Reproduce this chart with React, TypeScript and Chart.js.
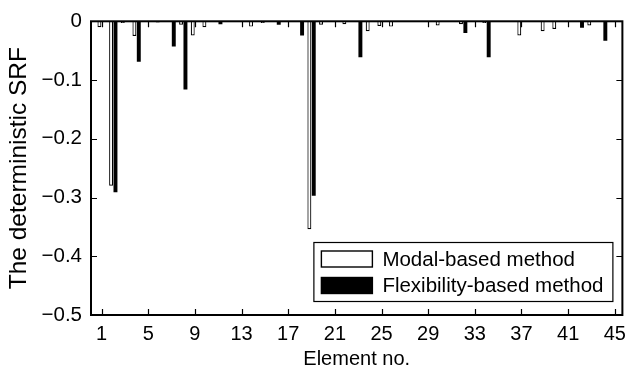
import React, { useEffect, useRef } from "react";
import { Chart, registerables } from "chart.js";

Chart.register(...registerables);

const elementNos = [
  1, 2, 3, 4, 5, 6, 7, 8, 9, 10, 11, 12, 13, 14, 15, 16, 17, 18, 19, 20, 21, 22, 23,
  24, 25, 26, 27, 28, 29, 30, 31, 32, 33, 34, 35, 36, 37, 38, 39, 40, 41, 42, 43, 44, 45,
];

const modalBased = [
  -0.01, -0.28, -0.003, -0.025, 0, -0.002, 0, -0.006, -0.024, -0.01,
  0, 0, 0, -0.009, -0.003, 0, 0, 0, -0.354, -0.006,
  0, -0.005, 0, -0.017, -0.008, -0.009, 0, 0, 0, -0.007,
  0, -0.005, 0, -0.003, 0, 0, -0.024, 0, -0.017, -0.013,
  0, 0, -0.007, 0, 0,
];

const flexibilityBased = [
  0, -0.291, 0, -0.069, 0, 0, -0.043, -0.116, 0, 0,
  -0.005, 0, 0, 0, 0, -0.006, 0, -0.024, -0.297, 0,
  0, 0, -0.061, 0, 0, 0, 0, 0, 0, 0,
  0, -0.02, 0, -0.061, 0, 0, 0, 0, 0, 0,
  0, -0.011, 0, -0.033, 0,
];

const xTickValues = [1, 5, 9, 13, 17, 21, 25, 29, 33, 37, 41, 45];
const yTickValues = [0, -0.1, -0.2, -0.3, -0.4, -0.5];

const seriesNames = ["Modal-based method", "Flexibility-based method"];

const FONT = '"Liberation Sans", Arial, Helvetica, sans-serif';

const framePlugin = {
  id: "matlabFrame",
  afterDatasetsDraw(chart: any) {
    const { ctx, chartArea: a, scales } = chart;
    ctx.save();
    const L = 6;
    ctx.strokeStyle = "#000";
    ctx.lineWidth = 1.2;
    ctx.beginPath();
    xTickValues.forEach((v) => {
      const px = Math.round(scales.x.getPixelForValue(v)) + 0.5;
      ctx.moveTo(px, a.bottom);
      ctx.lineTo(px, a.bottom - L);
      ctx.moveTo(px, a.top);
      ctx.lineTo(px, a.top + L);
    });
    yTickValues.forEach((v) => {
      const py = Math.round(scales.y.getPixelForValue(v)) + 0.5;
      ctx.moveTo(a.left, py);
      ctx.lineTo(a.left + L, py);
      ctx.moveTo(a.right, py);
      ctx.lineTo(a.right - L, py);
    });
    ctx.stroke();
    ctx.lineWidth = 2;
    ctx.strokeRect(a.left, a.top, a.right - a.left, a.bottom - a.top);

    // legend
    const bw = 299;
    const bh = 59;
    const bx = a.right - 10 - bw;
    const by = a.bottom - 14 - bh;
    ctx.fillStyle = "#fff";
    ctx.fillRect(bx, by, bw, bh);
    ctx.lineWidth = 1.2;
    ctx.strokeRect(bx + 0.5, by + 0.5, bw, bh);
    ctx.font = `20.5px ${FONT}`;
    ctx.textBaseline = "middle";
    ctx.textAlign = "left";
    chart.data.datasets.forEach((ds: any, i: number) => {
      const cy = by + 17 + i * 26.5;
      ctx.fillStyle = ds.backgroundColor;
      ctx.fillRect(bx + 8, cy - 8, 51, 16);
      ctx.strokeStyle = "#000";
      ctx.lineWidth = 1.4;
      ctx.strokeRect(bx + 8, cy - 8, 51, 16);
      ctx.fillStyle = "#000";
      ctx.fillText(ds.label, bx + 69, cy + 1);
    });
    ctx.restore();
  },
};

export default function App() {
  const canvasRef = useRef<HTMLCanvasElement | null>(null);

  useEffect(() => {
    if (!canvasRef.current) return;
    const chart = new Chart(canvasRef.current, {
      type: "bar",
      data: {
        datasets: [
          {
            label: seriesNames[0],
            data: elementNos.map((x, i) => ({ x, y: modalBased[i] })),
            backgroundColor: "#ffffff",
            borderColor: "#000000",
            borderWidth: 1.2,
            categoryPercentage: 0.75,
            barPercentage: 0.9,
          },
          {
            label: seriesNames[1],
            data: elementNos.map((x, i) => ({ x, y: flexibilityBased[i] })),
            backgroundColor: "#000000",
            borderColor: "#000000",
            borderWidth: 0,
            categoryPercentage: 0.75,
            barPercentage: 0.9,
          },
        ],
      },
      options: {
        responsive: false,
        animation: false,
        events: [],
        layout: { padding: { top: 18, right: 5, left: 0, bottom: 0 } },
        plugins: {
          legend: { display: false },
          tooltip: { enabled: false },
        },
        scales: {
          x: {
            type: "linear",
            min: 0.09,
            max: 45.65,
            offset: false,
            grid: { display: false, drawTicks: false },
            border: { display: false },
            afterBuildTicks: (scale: any) => {
              scale.ticks = xTickValues.map((v) => ({ value: v }));
            },
            afterFit: (scale: any) => {
              scale.height = 58;
            },
            ticks: {
              autoSkip: false,
              maxRotation: 0,
              color: "#000",
              padding: 7,
              font: { family: FONT, size: 20 },
              callback: (v: any) => String(v),
            },
            title: {
              display: true,
              text: "Element no.",
              color: "#000",
              font: { family: FONT, size: 20 },
              padding: { top: 0, bottom: 2 },
            },
          },
          y: {
            type: "linear",
            min: -0.5,
            max: 0,
            grid: { display: false, drawTicks: false },
            border: { display: false },
            afterBuildTicks: (scale: any) => {
              scale.ticks = yTickValues.map((v) => ({ value: v }));
            },
            afterFit: (scale: any) => {
              scale.width = 91;
            },
            ticks: {
              color: "#000",
              padding: 9,
              font: { family: FONT, size: 20.5 },
              callback: (v: any) =>
                Number(v) === 0 ? "0" : "\u2212" + Math.abs(Number(v)).toFixed(1),
            },
            title: {
              display: true,
              text: "The deterministic SRF",
              color: "#000",
              font: { family: FONT, size: 24.5 },
              padding: { top: 5, bottom: 0 },
            },
          },
        },
      },
      plugins: [framePlugin],
    });
    return () => chart.destroy();
  }, []);

  return (
    <div style={{ position: "absolute", left: 0, top: 0, width: 633, height: 373, background: "#fff" }}>
      <canvas ref={canvasRef} width={633} height={373} style={{ display: "block" }} />
    </div>
  );
}
